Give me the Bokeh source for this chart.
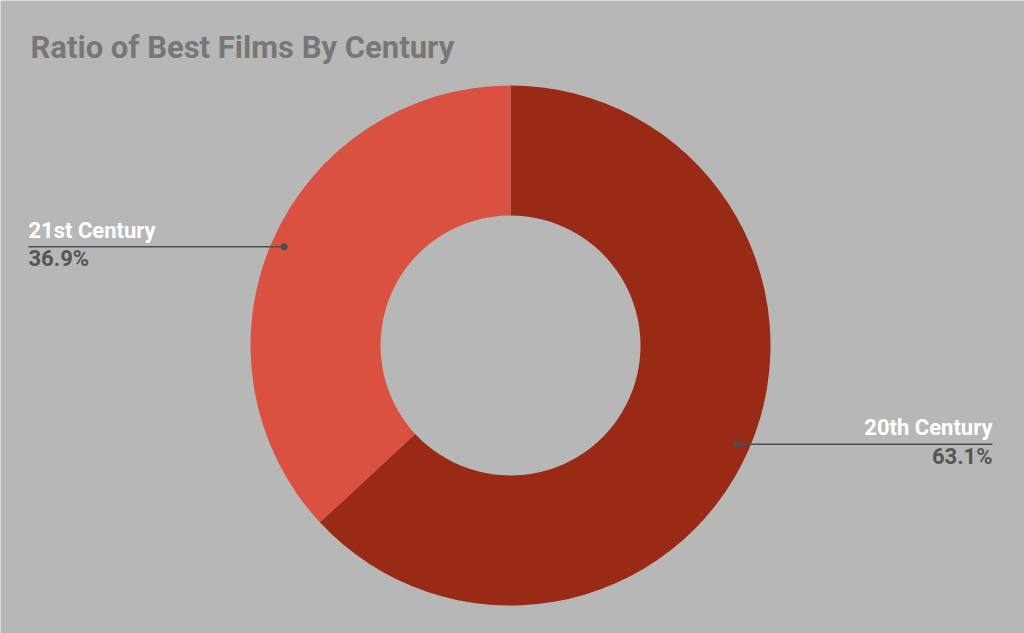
import numpy as np
from bokeh.plotting import figure
from bokeh.models import Range1d, ColumnDataSource
from bokeh.core.properties import value
from bokeh.embed import file_html
from bokeh.resources import INLINE

title = "Ratio of Best Films By Century"
categories = ["20th Century", "21st Century"]
shares = [63.1, 36.9]
colors = ["#982a16", "#da5141"]

W, H = 1024, 633
BG = "#b7b7b7"

p = figure(width=W, height=H, output_backend="svg", toolbar_location=None,
           x_range=Range1d(0, W), y_range=Range1d(0, H),
           min_border=0, background_fill_color=BG, border_fill_color=BG,
           outline_line_color=None)
p.axis.visible = False
p.grid.visible = False

cx, cy = 510, H - 345
r_out, r_in = 260, 130

fr = np.array(shares) / sum(shares)
cum = np.concatenate([[0], np.cumsum(fr)])
start = np.pi / 2 - 2 * np.pi * cum[:-1]
end = np.pi / 2 - 2 * np.pi * cum[1:]
mid = (start + end) / 2

src = ColumnDataSource(dict(start=start, end=end, color=colors))
p.annular_wedge(x=cx, y=cy, inner_radius=r_in, outer_radius=r_out,
                start_angle="start", end_angle="end", direction="clock",
                fill_color="color", line_color=None, source=src)

# labels with leader lines
r_dot = 0.95 * r_out
label_x = [992, 28]
for i, cat in enumerate(categories):
    dx = cx + r_dot * np.cos(mid[i])
    dy = cy + r_dot * np.sin(mid[i])
    lx = label_x[i]
    p.line([dx, lx], [dy, dy], line_color="#4d4d4d", line_width=1.5)
    p.scatter([dx], [dy], size=7, fill_color="#4d4d4d", line_color=None)
    align = "left" if lx < dx else "right"
    p.text([lx], [dy + 4], text=[cat], text_font=value("Roboto"),
           text_font_style="bold", text_font_size="22px", text_color="white",
           text_align=align, text_baseline="bottom")
    p.text([lx], [dy + 0.5], text=["%.1f%%" % shares[i]], text_font=value("Roboto"),
           text_font_style="bold", text_font_size="22px", text_color="#555555",
           text_align=align, text_baseline="top")

p.text([30], [H - 47], text=[title], text_font=value("Roboto"),
       text_font_style="bold", text_font_size="31px", text_color="#777777",
       text_align="left", text_baseline="alphabetic")

html = file_html(p, INLINE)
html = html.replace("<body>", '<body style="margin:0;background:%s">' % BG, 1)
open("out.html", "w").write(html)
